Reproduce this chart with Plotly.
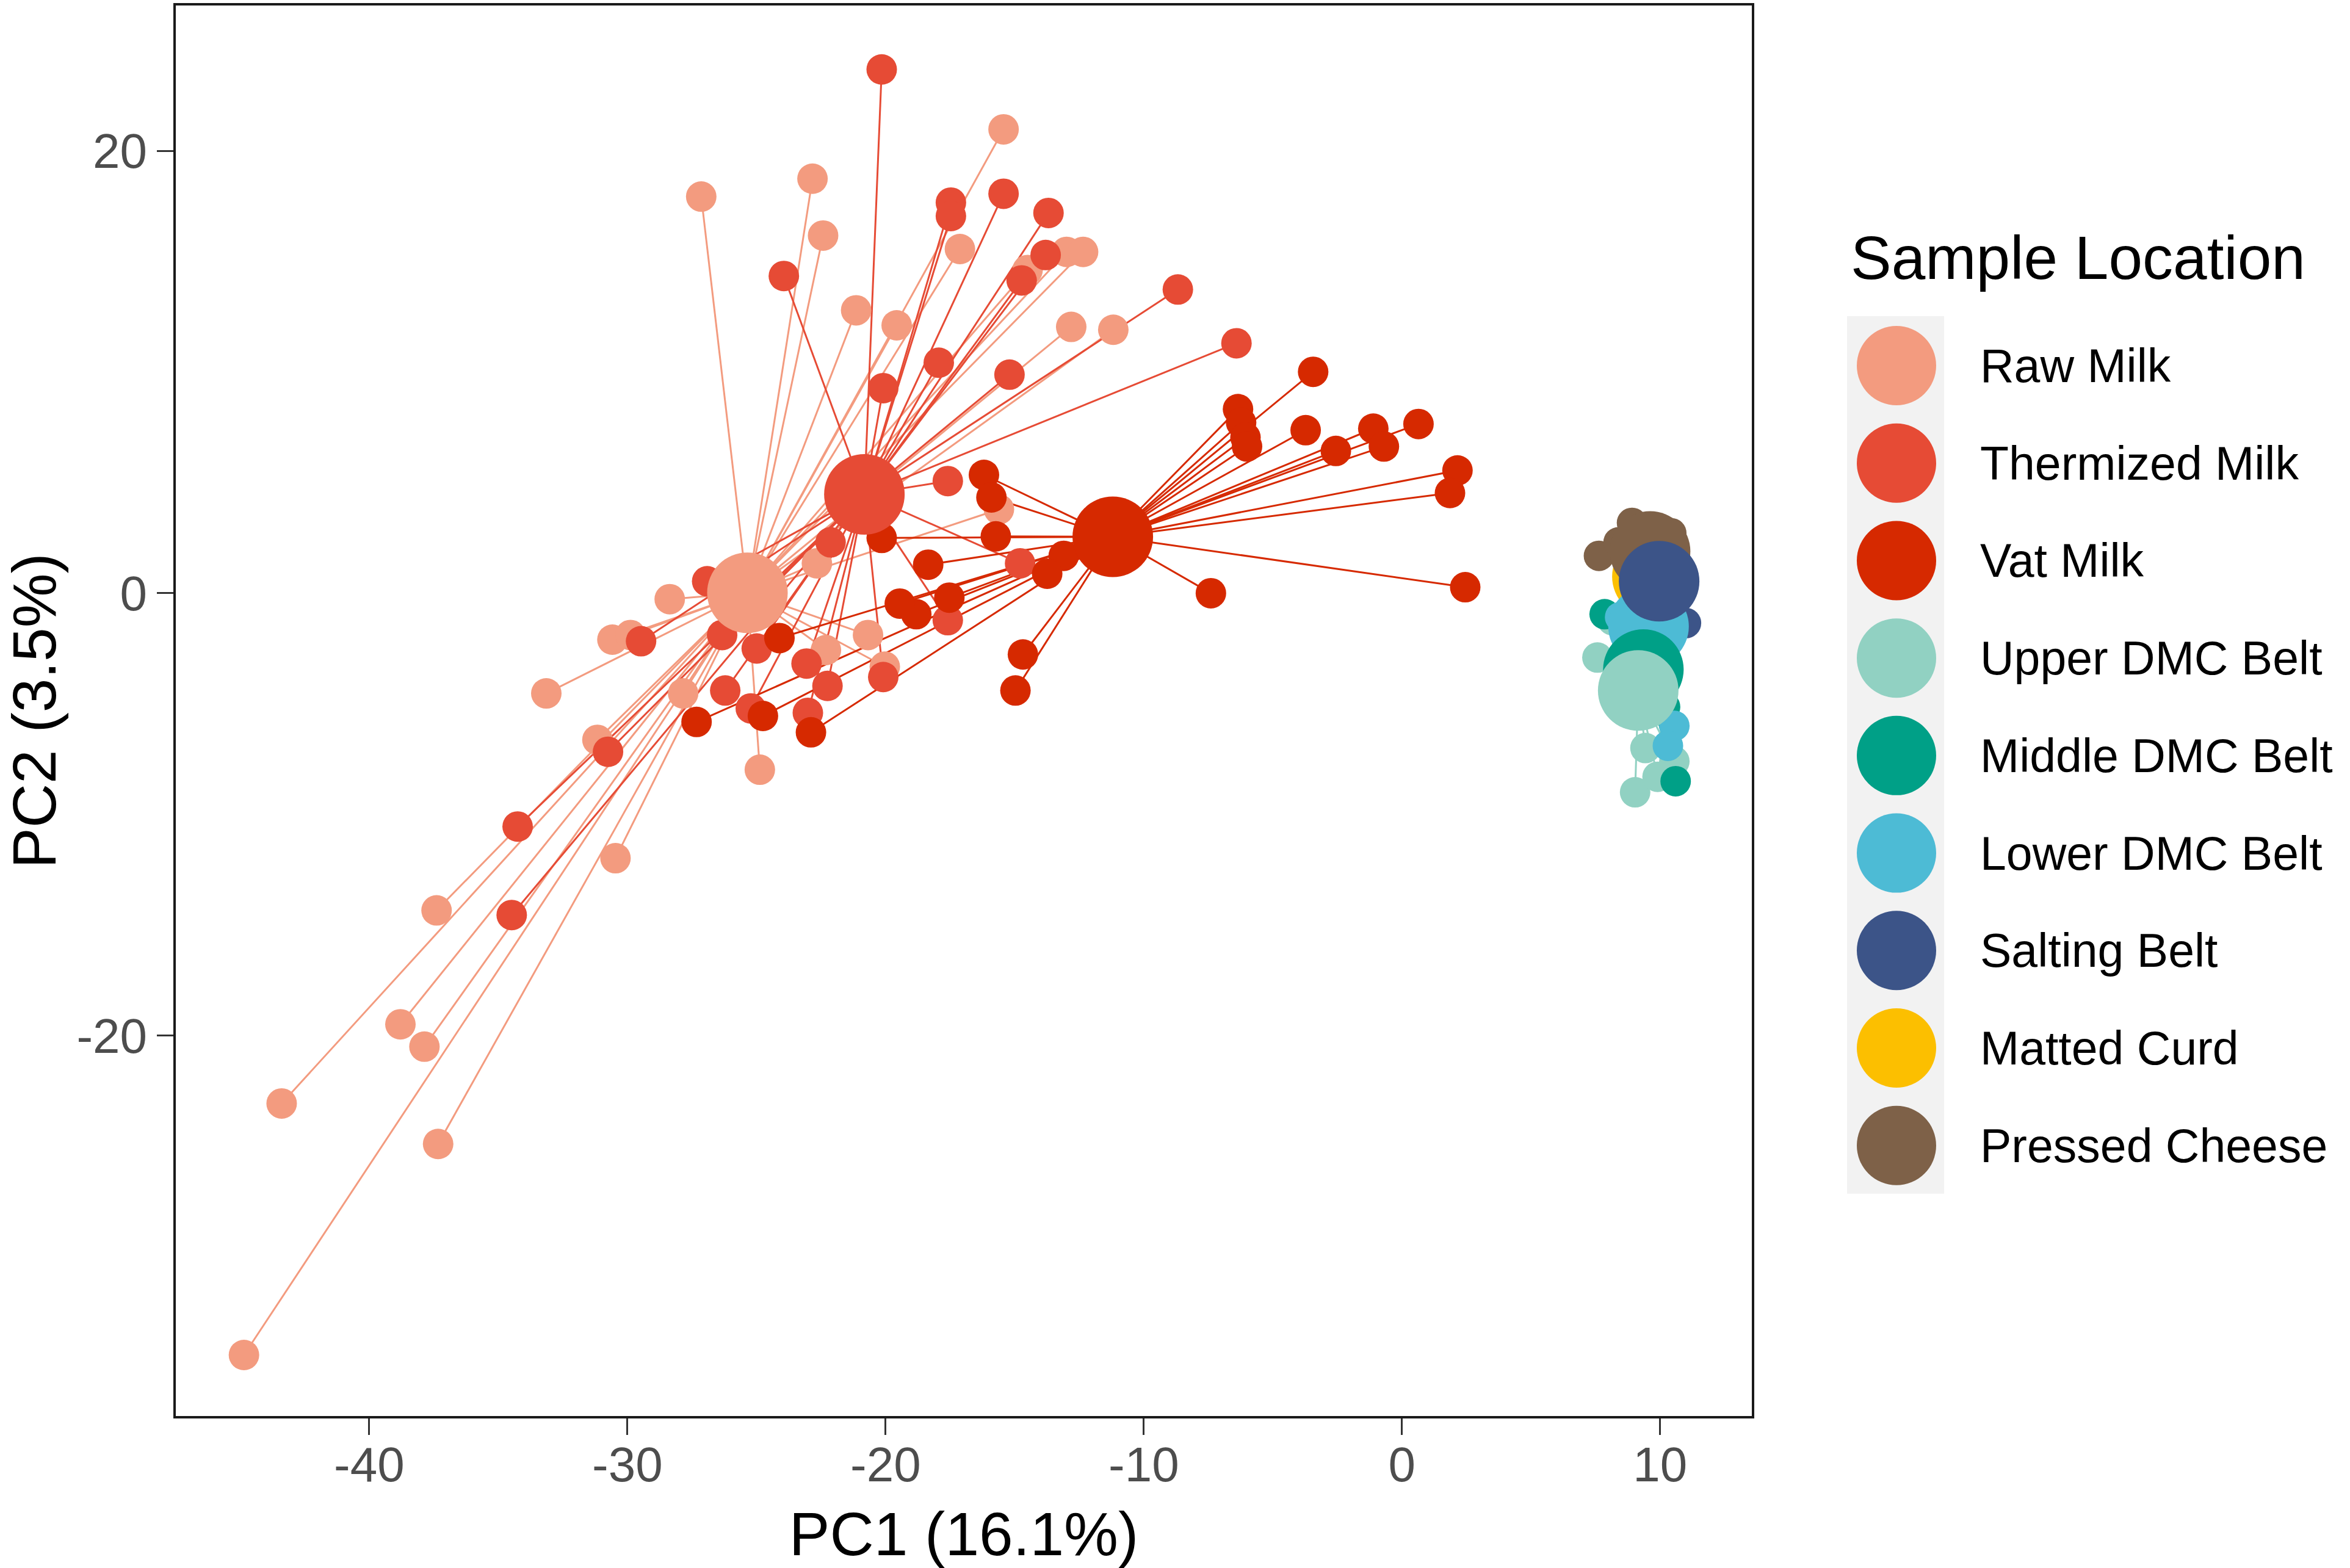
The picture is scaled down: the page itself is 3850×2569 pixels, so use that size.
import plotly.graph_objects as go

GROUPS = ["Raw Milk", "Thermized Milk", "Vat Milk", "Upper DMC Belt", "Middle DMC Belt",
          "Lower DMC Belt", "Salting Belt", "Matted Curd", "Pressed Cheese"]
COLORS = ["#F39B7F", "#E64B35", "#D62900", "#91D1C2", "#00A087",
          "#4DBBD5", "#3C5488", "#FCBF00", "#7E6148"]

# group centroids (PC1, PC2), same order as GROUPS
CENTROID_PC1 = [-25.35, -20.82, -11.2, 9.15, 9.35, 9.55, 9.96, 9.7, 9.61]
CENTROID_PC2 = [0.02, 4.47, 2.55, -4.4, -3.45, -1.5, 0.54, 0.75, 1.89]

# individual samples
RAW_PC1 = [-44.85, -43.39, -38.79, -37.86, -37.39, -37.33, -33.14, -30.46, -31.16, -30.58, -29.88,
           -28.36, -27.84, -27.14, -24.87, -22.83, -22.42, -22.66, -22.31, -21.14, -20.03, -20.68,
           -19.57, -17.12, -15.43, -15.61, -12.99, -12.35, -12.81, -11.18, -14.50]
RAW_PC2 = [-34.44, -23.07, -19.49, -20.50, -14.34, -24.90, -4.53, -11.98, -6.63, -2.10, -1.89,
           -0.27, -4.53, 17.93, -7.98, 18.74, 16.17, 1.35, -2.57, 12.79, -3.32, -1.89,
           12.11, 15.56, 20.97, 3.79, 15.43, 15.43, 12.04, 11.91, 14.61]

THERM_PC1 = [-20.15, -17.47, -17.47, -15.43, -13.69, -13.80, -14.73, -23.94, -8.68, -6.41,
             -17.94, -15.20, -20.09, -17.59, -22.13, -14.79, -26.91, -29.47, -26.33, -24.99,
             -23.06, -22.25, -23.01, -25.22, -26.21, -20.09, -17.59, -30.75, -34.25, -34.48]
THERM_PC2 = [23.68, 17.66, 17.05, 18.06, 17.19, 15.29, 14.14, 14.34, 13.73, 11.30,
             10.42, 9.88, 9.27, 5.07, 2.30, 1.35, 0.54, -2.17, -1.89, -2.50,
             -3.18, -4.19, -5.41, -5.21, -4.40, -3.79, -1.22, -7.17, -10.55, -14.55]

VAT_PC1 = [-3.44, -6.35, -6.23, -6.06, -6.00, -3.73, -2.56, -1.11, -0.70, 0.64, 2.15, 1.86,
           2.45, -7.40, -16.19, -15.90, -15.73, -13.10, -13.74, -18.35, -17.53, -18.81, -19.45,
           -14.68, -14.97, -20.15, -24.11, -22.89, -24.75, -27.32]
VAT_PC2 = [10.01, 8.32, 7.71, 7.04, 6.63, 7.37, 6.43, 7.44, 6.63, 7.65, 5.55, 4.53,
           0.27, 0.00, 5.35, 4.33, 2.57, 1.69, 0.88, 1.29, -0.20, -0.95, -0.47,
           -2.77, -4.40, 2.50, -2.03, -6.29, -5.55, -5.82]

UPPER_PC1 = [7.57, 9.43, 10.55, 9.03, 9.90, 8.15]
UPPER_PC2 = [-2.91, -7.0, -7.6, -9.0, -8.3, -1.22]
MIDDLE_PC1 = [7.85, 10.6, 10.19]
MIDDLE_PC2 = [-0.95, -8.5, -5.14]
LOWER_PC1 = [10.55, 10.3, 8.45, 10.08]
LOWER_PC2 = [-6.0, -6.9, -1.08, -3.11]
SALT_PC1 = [11.0, 10.19, 9.61]
SALT_PC2 = [-1.35, 0.95, 0.14]
CURD_PC1 = [9.5, 9.9]
CURD_PC2 = [0.6, 1.0]
PRESSED_PC1 = [8.91, 7.63, 8.39, 10.43, 9.03]
PRESSED_PC2 = [3.18, 1.69, 2.30, 2.71, 2.64]

SAMPLES = [(RAW_PC1, RAW_PC2), (THERM_PC1, THERM_PC2), (VAT_PC1, VAT_PC2),
           (UPPER_PC1, UPPER_PC2), (MIDDLE_PC1, MIDDLE_PC2), (LOWER_PC1, LOWER_PC2),
           (SALT_PC1, SALT_PC2), (CURD_PC1, CURD_PC2), (PRESSED_PC1, PRESSED_PC2)]

X_TICKS = [-40, -30, -20, -10, 0, 10]
X_TICKTEXT = ["-40", "-30", "-20", "-10", "0", "10"]
Y_TICKS = [-20, 0, 20]
Y_TICKTEXT = ["-20", "0", "20"]

FONT = "Liberation Sans, Arial, sans-serif"
W, H = 3850, 2569
L, R, T, B = 288, 2870, 5, 2320  # plot area in pixels

fig = go.Figure()

# spider segments: every sample to its group centroid
for i, (xs, ys) in enumerate(SAMPLES):
    sx, sy = [], []
    for x, y in zip(xs, ys):
        sx += [CENTROID_PC1[i], x, None]
        sy += [CENTROID_PC2[i], y, None]
    fig.add_trace(go.Scatter(x=sx, y=sy, mode="lines", line=dict(color=COLORS[i], width=3),
                             hoverinfo="skip", showlegend=False))

# sample points
for i, (xs, ys) in enumerate(SAMPLES):
    fig.add_trace(go.Scatter(x=xs, y=ys, mode="markers", name=GROUPS[i],
                             marker=dict(color=COLORS[i], size=50, line=dict(width=0)),
                             showlegend=False))

# centroids (drawing order chosen so overlaps look like the original)
for i in [0, 1, 2, 7, 8, 5, 6, 4, 3]:
    fig.add_trace(go.Scatter(x=[CENTROID_PC1[i]], y=[CENTROID_PC2[i]], mode="markers",
                             marker=dict(color=COLORS[i], size=132, line=dict(width=0)),
                             hoverinfo="skip", showlegend=False))

def px_x(p):
    return (p - L) / (R - L)

def px_y(p):
    return (B - p) / (B - T)

# hand-drawn legend (big keys, grey key background like ggplot)
shapes = [dict(type="rect", xref="paper", yref="paper", x0=px_x(3026), x1=px_x(3185),
               y0=px_y(1955), y1=px_y(515), fillcolor="#F2F2F2", line=dict(width=0), layer="below")]
annotations = [dict(text="Sample Location", xref="paper", yref="paper", x=px_x(3030), y=px_y(419),
                    xanchor="left", yanchor="middle", showarrow=False,
                    font=dict(family=FONT, size=100, color="black"))]
for i, g in enumerate(GROUPS):
    cy = 596 + 160 * i
    shapes.append(dict(type="circle", xref="paper", yref="paper", xsizemode="pixel", ysizemode="pixel",
                       xanchor=px_x(3107), yanchor=px_y(cy), x0=-65, x1=65, y0=-65, y1=65,
                       fillcolor=COLORS[i], line=dict(width=0)))
    annotations.append(dict(text=g, xref="paper", yref="paper", x=px_x(3242), y=px_y(cy),
                            xanchor="left", yanchor="middle", showarrow=False,
                            font=dict(family=FONT, size=77, color="black")))

axis_common = dict(showgrid=False, zeroline=False, showline=True, mirror=True,
                   linecolor="#1a1a1a", linewidth=4, ticks="outside", ticklen=27, tickwidth=3,
                   tickcolor="#333333", tickfont=dict(family=FONT, size=80, color="#4D4D4D"))

fig.update_layout(
    width=W, height=H,
    margin=dict(l=L, r=W - R, t=T, b=H - B),
    paper_bgcolor="white", plot_bgcolor="white",
    font=dict(family=FONT),
    shapes=shapes, annotations=annotations,
    showlegend=False,
    xaxis=dict(range=[-47.49, 13.55], tickvals=X_TICKS, ticktext=X_TICKTEXT, ticklabelstandoff=-20,
               title=dict(text="PC1 (16.1%)", font=dict(family=FONT, size=100, color="black"), standoff=38),
               **axis_common),
    yaxis=dict(range=[-37.2, 26.57], tickvals=Y_TICKS, ticktext=Y_TICKTEXT,
               title=dict(text="PC2 (3.5%)", font=dict(family=FONT, size=100, color="black"), standoff=48),
               **axis_common),
)

fig.write_html("out.html", config={"displayModeBar": False},
               post_script="document.body.style.margin='0px';")
